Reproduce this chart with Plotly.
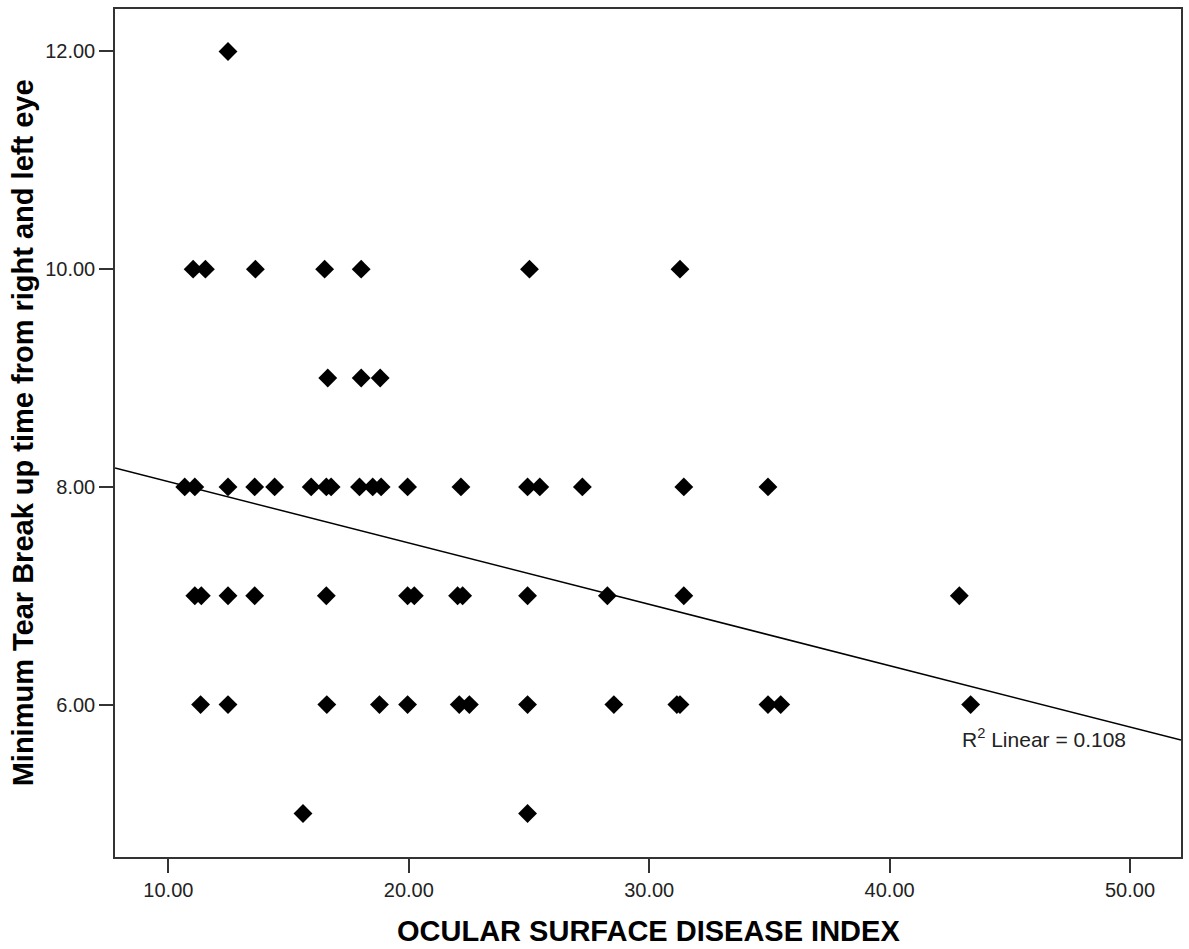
import numpy as np
import plotly.graph_objects as go

# OSDI values (x) grouped by minimum TBUT value (y)
osdi_tbut12 = [12.48]
osdi_tbut10 = [11.03, 11.54, 13.62, 16.50, 18.02, 25.02, 31.28]
osdi_tbut9 = [16.63, 18.02, 18.81]
osdi_tbut8 = [10.68, 11.10, 12.48, 13.59, 14.42, 15.94, 16.57, 16.77, 17.95,
              18.50, 18.85, 19.95, 22.17, 24.94, 25.45, 27.22, 31.44, 34.94]
osdi_tbut7 = [11.10, 11.37, 12.48, 13.59, 16.57, 19.95, 20.23, 22.03, 22.24,
              24.94, 28.26, 31.44, 42.90]
osdi_tbut6 = [11.34, 12.48, 16.59, 18.78, 19.95, 22.10, 22.52, 24.94, 28.53,
              31.15, 31.28, 34.94, 35.47, 43.37]
osdi_tbut5 = [15.60, 24.94]

groups = [(12, osdi_tbut12), (10, osdi_tbut10), (9, osdi_tbut9), (8, osdi_tbut8),
          (7, osdi_tbut7), (6, osdi_tbut6), (5, osdi_tbut5)]

# Fit line (full data includes overlapping points)
fit_intercept = 8.612
fit_slope = -0.05636
r2_label = "R<sup>2</sup> Linear = 0.108"

x_range = [7.78, 52.12]
y_range = [4.60, 12.39]
x_ticks = [10, 20, 30, 40, 50]
y_ticks = [6, 8, 10, 12]

x_vals = []
y_vals = []
for yv, xs in groups:
    for xv in xs:
        x_vals.append(xv)
        y_vals.append(yv)
x_arr = np.array(x_vals)
y_arr = np.array(y_vals, dtype=float)

line_x = np.array(x_range)
line_y = fit_intercept + fit_slope * line_x

font_family = "Liberation Sans, Arial, sans-serif"

fig = go.Figure()
fig.add_trace(go.Scatter(
    x=line_x, y=line_y, mode="lines",
    line=dict(color="black", width=1.5),
    hoverinfo="skip", showlegend=False,
))
fig.add_trace(go.Scatter(
    x=x_arr, y=y_arr, mode="markers",
    marker=dict(symbol="diamond", size=14.5, color="black", line=dict(width=0)),
    showlegend=False,
))

axis_common = dict(
    showgrid=False, zeroline=False, showline=True, mirror=True,
    linecolor="#333333", linewidth=1.5,
    ticks="outside", ticklen=14, tickwidth=1.5, tickcolor="#333333",
    tickformat=".2f",
    tickfont=dict(family=font_family, size=20, color="#222222"),
)

fig.update_xaxes(range=x_range, tickvals=x_ticks, **axis_common)
fig.update_yaxes(range=y_range, tickvals=y_ticks, **axis_common)

fig.add_annotation(
    text="OCULAR SURFACE DISEASE INDEX", xref="paper", yref="paper",
    x=0.5, y=-0.087, xanchor="center", yanchor="middle", showarrow=False,
    font=dict(family=font_family, size=29, color="black", weight="bold"),
)
fig.add_annotation(
    text="Minimum Tear Break up time from right and left eye",
    xref="paper", yref="paper", x=-0.086, y=0.5, xanchor="center", yanchor="middle",
    textangle=-90, showarrow=False,
    font=dict(family=font_family, size=29, color="black", weight="bold"),
)
fig.add_annotation(
    text=r2_label, xref="paper", yref="paper", x=0.793, y=0.1403,
    xanchor="left", yanchor="middle", showarrow=False,
    font=dict(family=font_family, size=21, color="#222222"),
)

fig.update_layout(
    width=1189, height=949,
    margin=dict(l=115, r=6, t=9, b=92),
    paper_bgcolor="white", plot_bgcolor="white",
)

fig.write_html("out.html")
